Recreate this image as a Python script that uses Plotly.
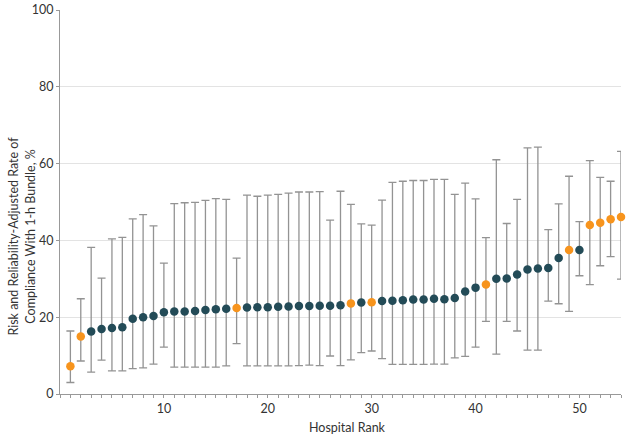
import plotly.graph_objects as go

ranks = list(range(1, 55))
rate = [7.2, 15.0, 16.3, 16.9, 17.2, 17.4, 19.6, 20.0, 20.3, 21.3,
        21.5, 21.5, 21.6, 21.9, 22.1, 22.2, 22.4, 22.5, 22.6, 22.6,
        22.7, 22.8, 22.9, 22.9, 23.0, 23.0, 23.1, 23.6, 23.8, 23.9,
        24.2, 24.3, 24.4, 24.6, 24.6, 24.8, 24.7, 25.0, 26.7, 27.7,
        28.5, 30.0, 30.1, 31.1, 32.4, 32.7, 32.8, 35.4, 37.5, 37.5,
        44.0, 44.6, 45.5, 46.1]
lower = [3.0, 8.6, 5.7, 8.8, 6.0, 6.0, 6.6, 6.8, 7.8, 12.2,
         7.0, 7.0, 7.0, 7.0, 7.0, 7.3, 13.1, 7.3, 7.3, 7.3,
         7.3, 7.3, 7.4, 7.5, 7.4, 9.9, 7.4, 8.9, 10.8, 11.2,
         9.2, 7.7, 7.7, 7.7, 7.7, 7.8, 7.8, 9.4, 9.8, 12.2,
         18.9, 10.4, 18.9, 16.4, 11.4, 11.4, 24.2, 23.5, 21.5, 30.8,
         28.5, 33.4, 35.8, 29.9]
upper = [16.4, 24.8, 38.2, 30.2, 40.4, 40.8, 45.6, 46.7, 43.8, 34.1,
         49.6, 49.8, 49.9, 50.4, 50.9, 50.7, 35.4, 51.8, 51.5, 51.8,
         52.0, 52.3, 52.6, 52.6, 52.7, 45.3, 52.8, 49.4, 44.3, 44.0,
         50.5, 55.1, 55.4, 55.6, 55.6, 55.9, 55.9, 52.0, 54.9, 50.8,
         40.7, 61.0, 44.4, 50.7, 64.1, 64.3, 42.8, 49.5, 56.7, 44.9,
         60.8, 56.4, 55.4, 63.2]
highlight = [1, 2, 17, 28, 30, 41, 49, 51, 52, 53, 54]

x_ticks = [10, 20, 30, 40, 50]
y_ticks = [0, 20, 40, 60, 80, 100]

TEAL = "#234b57"
ORANGE = "#f7941d"
BAR = "#939393"

fig = go.Figure()
for is_hl, color in [(False, TEAL), (True, ORANGE)]:
    idx = [i for i, r in enumerate(ranks) if (r in highlight) == is_hl]
    fig.add_trace(go.Scatter(
        x=[ranks[i] for i in idx],
        y=[rate[i] for i in idx],
        mode="markers",
        marker=dict(color=color, size=8.5, line=dict(width=0)),
        error_y=dict(type="data", symmetric=False,
                     array=[upper[i] - rate[i] for i in idx],
                     arrayminus=[rate[i] - lower[i] for i in idx],
                     color=BAR, thickness=1.3, width=4),
        cliponaxis=False,
        showlegend=False,
    ))

font = "Lato, Roboto, sans-serif"
fig.update_layout(
    width=630, height=437,
    margin=dict(l=60, r=9, t=10, b=43),
    paper_bgcolor="white", plot_bgcolor="white",
    font=dict(family=font, size=12.5, color="#333333"),
    xaxis=dict(range=[0, 54], tickvals=x_ticks, ticks="outside", ticklen=3,
               tickcolor="#999999", showgrid=False, zeroline=False, automargin=False,
               showline=True, linecolor="#999999", linewidth=1,
               minor=dict(dtick=1, tick0=0, ticks="outside", ticklen=3, tickcolor="#999999"),
               tickfont=dict(size=12.5)),
    yaxis=dict(range=[0, 100], tickvals=y_ticks, ticks="outside", ticklen=3,
               tickcolor="#999999", showgrid=True, gridcolor="#e3e3e3", gridwidth=1,
               zeroline=False, showline=True, linecolor="#999999", linewidth=1,
               automargin=False, tickfont=dict(size=12.5)),
    annotations=[
        dict(text="Hospital Rank", xref="paper", yref="paper", x=0.5, y=-0.088,
             xanchor="center", yanchor="middle", showarrow=False,
             font=dict(size=12.5, color="#333333"), xshift=7),
        dict(text="Risk and Reliability-Adjusted Rate of<br>Compliance With 1-h Bundle, %",
             xref="paper", yref="paper", x=0, y=0.41, xanchor="center", yanchor="middle",
             xshift=-38, textangle=-90, showarrow=False,
             font=dict(size=12.5, color="#333333")),
    ],
)
fig.write_html("out.html", config={"displayModeBar": False},
               post_script="document.body.style.margin='0';document.body.style.overflow='hidden';")
